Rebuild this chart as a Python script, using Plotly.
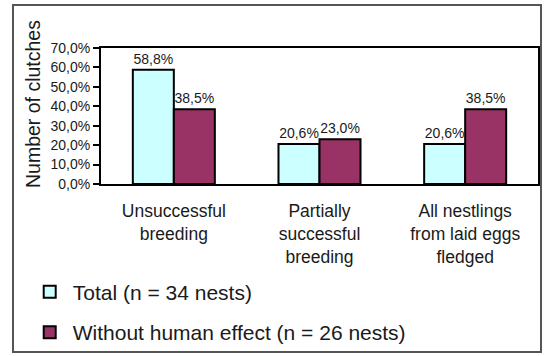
import plotly.graph_objects as go

# Breeding outcome categories and share of clutches (%)
categories = ["Unsuccessful<br>breeding",
              "Partially<br>successful<br>breeding",
              "All nestlings<br>from laid eggs<br>fledged"]
total_pct = [58.8, 20.6, 20.6]
no_human_pct = [38.5, 23.0, 38.5]
series_names = ["Total (n = 34 nests)", "Without human effect (n = 26 nests)"]
y_ticks = [0, 10, 20, 30, 40, 50, 60, 70]
y_tick_labels = ["0,0%", "10,0%", "20,0%", "30,0%", "40,0%", "50,0%", "60,0%", "70,0%"]

FONT = "Liberation Sans, Arial, sans-serif"
INK = "#1a1a1a"

fig = go.Figure()
for name, vals, color, grp in [(series_names[0], total_pct, "#ccffff", "a"),
                               (series_names[1], no_human_pct, "#993366", "b")]:
    fig.add_trace(go.Bar(
        x=categories, y=vals, name=name, legendgroup=grp,
        marker=dict(color=color, line=dict(color="black", width=2)),
        texttemplate="%{y:.1f}%", textposition="outside",
        textangle=0, constraintext="none", cliponaxis=False,
        textfont=dict(family=FONT, size=14, color=INK),
    ))

fig.update_layout(
    width=546, height=356,
    margin=dict(l=101, r=8, t=48, b=172, autoexpand=False),
    paper_bgcolor="white", plot_bgcolor="white",
    separators=", ",
    barmode="group", bargap=0.437, bargroupgap=0,
    font=dict(family=FONT, color=INK),
    showlegend=True,
    legend=dict(x=-0.17, xanchor="left", y=-0.645, yanchor="top",
                orientation="v", traceorder="grouped", tracegroupgap=10,
                itemwidth=36,
                font=dict(family=FONT, size=21, color=INK),
                bgcolor="rgba(0,0,0,0)"),
    xaxis=dict(showline=True, linecolor="black", linewidth=2, mirror=True,
               ticks="outside", ticklen=10, tickcolor="rgba(0,0,0,0)",
               tickfont=dict(family=FONT, size=17.5, color=INK),
               showgrid=False, zeroline=False),
    yaxis=dict(range=[0, 70], tickvals=y_ticks, ticktext=y_tick_labels,
               showline=True, linecolor="black", linewidth=2, mirror=True,
               ticks="outside", ticklen=6, tickwidth=2, tickcolor="black",
               tickfont=dict(family=FONT, size=14, color=INK),
               showgrid=False, zeroline=False),
)

# Y-axis title
fig.add_annotation(text="Number of clutches", textangle=-90,
                   xref="paper", yref="paper", x=-0.1556, y=0.588,
                   xanchor="center", yanchor="middle", showarrow=False,
                   font=dict(family=FONT, size=19.5, color=INK))

# Frame around the whole chart
fig.add_shape(type="rect", xref="paper", yref="paper",
              x0=-0.2014, x1=1.0069, y0=-1.235, y1=1.316,
              line=dict(color="#555555", width=2), fillcolor="rgba(0,0,0,0)",
              layer="below")

fig.write_html("out.html")
